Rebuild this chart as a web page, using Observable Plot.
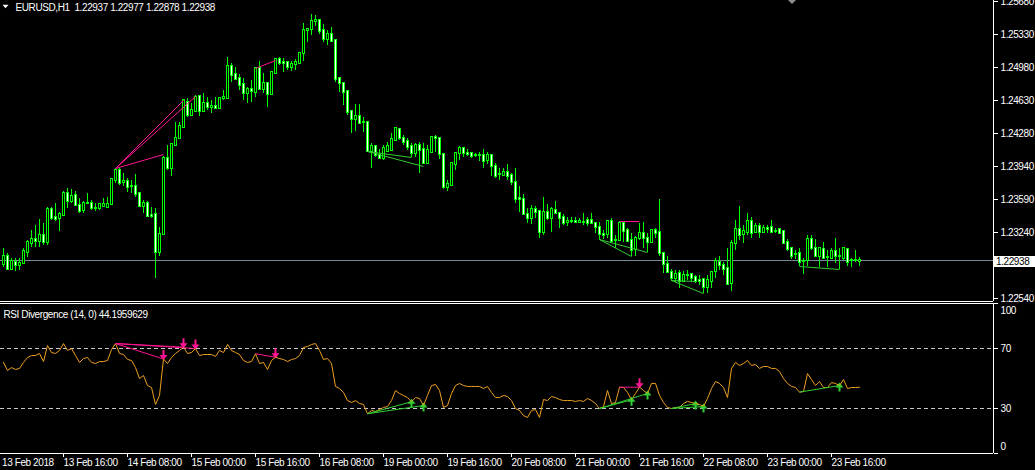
<!DOCTYPE html>
<html><head><meta charset="utf-8">
<script src="https://cdn.jsdelivr.net/npm/d3@7"></script>
<script src="https://cdn.jsdelivr.net/npm/@observablehq/plot@0.6"></script>
<style>
html,body{margin:0;padding:0;background:#000;}
#wrap{position:relative;width:1035px;height:470px;background:#000;overflow:hidden;font-family:"Liberation Sans",Arial,sans-serif;}
#wrap svg{display:block;}
#pricebox{position:absolute;left:994px;width:41px;height:11px;background:#fff;color:#000;font-size:10px;line-height:11px;letter-spacing:-0.4px;padding-left:2px;box-sizing:border-box;}
#shift{position:absolute;left:788px;top:0;width:0;height:0;border-left:4px solid transparent;border-right:4px solid transparent;border-top:4px solid #8c8c8c;}
</style></head><body><div id="wrap"></div>
<script>
const symbolTitle = "EURUSD,H1  1.22937 1.22977 1.22878 1.22938";
const rsiTitle = "RSI Divergence (14, 0) 44.1959629";
const lastPrice = 1.22938;

const open = [1.2290,1.2299,1.2285,1.2292,1.2289,1.2291,1.2303,1.2312,1.2316,1.2314,1.2321,1.2313,1.2348,1.2340,1.2339,1.2342,1.2365,1.2357,1.2363,1.2352,1.2347,1.2354,1.2355,1.2349,1.2349,1.2351,1.2350,1.2353,1.2379,1.2389,1.2377,1.2378,1.2372,1.2372,1.2365,1.2351,1.2355,1.2342,1.2343,1.2303,1.2322,1.2402,1.2392,1.2416,1.2423,1.2435,1.2461,1.2447,1.2452,1.2468,1.2452,1.2460,1.2456,1.2457,1.2455,1.2465,1.2465,1.2499,1.2491,1.2487,1.2480,1.2471,1.2475,1.2472,1.2497,1.2475,1.2481,1.2470,1.2492,1.2507,1.2503,1.2503,1.2498,1.2501,1.2502,1.2513,1.2537,1.2538,1.2547,1.2548,1.2537,1.2528,1.2533,1.2527,1.2487,1.2481,1.2473,1.2452,1.2443,1.2446,1.2440,1.2440,1.2409,1.2415,1.2405,1.2402,1.2409,1.2410,1.2421,1.2433,1.2423,1.2420,1.2415,1.2407,1.2416,1.2412,1.2397,1.2408,1.2424,1.2423,1.2406,1.2371,1.2373,1.2396,1.2407,1.2413,1.2407,1.2407,1.2405,1.2405,1.2405,1.2400,1.2405,1.2394,1.2385,1.2384,1.2387,1.2384,1.2377,1.2360,1.2359,1.2343,1.2339,1.2348,1.2346,1.2324,1.2345,1.2339,1.2347,1.2344,1.2340,1.2334,1.2335,1.2335,1.2334,1.2334,1.2336,1.2336,1.2333,1.2329,1.2322,1.2322,1.2335,1.2315,1.2315,1.2333,1.2326,1.2315,1.2306,1.2318,1.2323,1.2318,1.2313,1.2326,1.2324,1.2302,1.2290,1.2282,1.2275,1.2280,1.2272,1.2278,1.2279,1.2276,1.2273,1.2274,1.2266,1.2272,1.2283,1.2292,1.2289,1.2286,1.2270,1.2312,1.2327,1.2322,1.2324,1.2335,1.2324,1.2330,1.2324,1.2328,1.2329,1.2325,1.2327,1.2325,1.2313,1.2307,1.2301,1.2302,1.2293,1.2294,1.2316,1.2307,1.2299,1.2306,1.2297,1.2296,1.2304,1.2298,1.2296,1.2306,1.2294,1.2294,1.22937];
const high = [1.2307,1.2302,1.2296,1.2296,1.2296,1.2307,1.2315,1.2326,1.2331,1.2338,1.2333,1.2350,1.2350,1.2355,1.2345,1.2367,1.2370,1.2369,1.2367,1.2360,1.2357,1.2365,1.2358,1.2354,1.2355,1.2360,1.2361,1.2381,1.2392,1.2392,1.2386,1.2381,1.2379,1.2385,1.2366,1.2358,1.2357,1.2350,1.2349,1.2329,1.2404,1.2416,1.2418,1.2440,1.2440,1.2464,1.2465,1.2460,1.2469,1.2469,1.2471,1.2466,1.2463,1.2466,1.2466,1.2474,1.2509,1.2502,1.2498,1.2491,1.2487,1.2477,1.2484,1.2498,1.2505,1.2492,1.2482,1.2494,1.2508,1.2509,1.2508,1.2505,1.2505,1.2507,1.2514,1.2545,1.2539,1.2554,1.2553,1.2549,1.2544,1.2537,1.2540,1.2528,1.2488,1.2482,1.2474,1.2453,1.2459,1.2459,1.2445,1.2441,1.2418,1.2416,1.2412,1.2416,1.2419,1.2428,1.2435,1.2434,1.2426,1.2423,1.2418,1.2418,1.2419,1.2418,1.2416,1.2425,1.2426,1.2424,1.2407,1.2379,1.2398,1.2408,1.2415,1.2414,1.2412,1.2408,1.2407,1.2408,1.2412,1.2408,1.2406,1.2397,1.2391,1.2392,1.2396,1.2386,1.2391,1.2372,1.2364,1.2349,1.2352,1.2351,1.2347,1.2361,1.2353,1.2350,1.2357,1.2345,1.2343,1.2340,1.2340,1.2340,1.2339,1.2344,1.2340,1.2344,1.2334,1.2334,1.2326,1.2336,1.2339,1.2321,1.2335,1.2334,1.2328,1.2323,1.2320,1.2333,1.2334,1.2323,1.2327,1.2328,1.2359,1.2303,1.2298,1.2285,1.2284,1.2284,1.2283,1.2284,1.2280,1.2278,1.2278,1.2275,1.2278,1.2283,1.2296,1.2298,1.2292,1.2307,1.2315,1.2336,1.2351,1.2331,1.2344,1.2340,1.2333,1.2333,1.2331,1.2331,1.2336,1.2328,1.2328,1.2326,1.2316,1.2308,1.2305,1.2307,1.2296,1.2321,1.2321,1.2316,1.2308,1.2313,1.2305,1.2307,1.2317,1.2307,1.2307,1.2307,1.2296,1.2305,1.22977];
const low = [1.2287,1.2284,1.2284,1.2283,1.2284,1.2290,1.2297,1.2308,1.2308,1.2308,1.2310,1.2310,1.2336,1.2335,1.2325,1.2341,1.2349,1.2354,1.2351,1.2344,1.2344,1.2353,1.2347,1.2346,1.2347,1.2350,1.2349,1.2352,1.2376,1.2373,1.2372,1.2366,1.2365,1.2361,1.2350,1.2344,1.2340,1.2339,1.2275,1.2299,1.2321,1.2389,1.2383,1.2415,1.2422,1.2434,1.2445,1.2446,1.2451,1.2446,1.2451,1.2453,1.2450,1.2454,1.2455,1.2463,1.2464,1.2482,1.2484,1.2474,1.2463,1.2460,1.2461,1.2466,1.2474,1.2471,1.2456,1.2469,1.2491,1.2500,1.2493,1.2495,1.2494,1.2495,1.2501,1.2505,1.2525,1.2532,1.2542,1.2533,1.2525,1.2521,1.2525,1.2482,1.2472,1.2458,1.2447,1.2428,1.2431,1.2438,1.2429,1.2408,1.2392,1.2403,1.2401,1.2400,1.2408,1.2409,1.2420,1.2421,1.2416,1.2410,1.2403,1.2403,1.2386,1.2396,1.2396,1.2407,1.2408,1.2401,1.2369,1.2367,1.2372,1.2389,1.2400,1.2403,1.2404,1.2402,1.2403,1.2399,1.2392,1.2396,1.2383,1.2381,1.2379,1.2383,1.2379,1.2373,1.2354,1.2345,1.2342,1.2333,1.2332,1.2339,1.2318,1.2321,1.2336,1.2324,1.2343,1.2328,1.2331,1.2330,1.2333,1.2333,1.2333,1.2331,1.2330,1.2332,1.2323,1.2315,1.2316,1.2318,1.2312,1.2307,1.2314,1.2313,1.2313,1.2299,1.2299,1.2315,1.2307,1.2303,1.2312,1.2318,1.2299,1.2280,1.2280,1.2272,1.2271,1.2265,1.2271,1.2273,1.2271,1.2270,1.2268,1.2259,1.2259,1.2265,1.2275,1.2284,1.2278,1.2268,1.2262,1.2305,1.2315,1.2312,1.2321,1.2318,1.2323,1.2318,1.2323,1.2323,1.2323,1.2323,1.2322,1.2311,1.2304,1.2295,1.2295,1.2288,1.2279,1.2288,1.2305,1.2297,1.2287,1.2296,1.2287,1.2295,1.2291,1.2285,1.2294,1.2288,1.2287,1.2292,1.22878];
const close = [1.2299,1.2285,1.2293,1.2289,1.2291,1.2304,1.2313,1.2316,1.2314,1.2321,1.2313,1.2348,1.2339,1.2338,1.2343,1.2365,1.2357,1.2362,1.2352,1.2346,1.2354,1.2355,1.2349,1.2349,1.2353,1.2353,1.2353,1.2380,1.2389,1.2376,1.2378,1.2371,1.2372,1.2364,1.2351,1.2355,1.2341,1.2341,1.2303,1.2322,1.2402,1.2392,1.2417,1.2423,1.2436,1.2463,1.2447,1.2453,1.2466,1.2452,1.2460,1.2456,1.2457,1.2455,1.2465,1.2466,1.2499,1.2490,1.2486,1.2479,1.2471,1.2475,1.2473,1.2497,1.2475,1.2481,1.2470,1.2493,1.2507,1.2502,1.2502,1.2498,1.2501,1.2503,1.2513,1.2537,1.2538,1.2547,1.2548,1.2536,1.2528,1.2533,1.2526,1.2486,1.2481,1.2472,1.2451,1.2443,1.2446,1.2439,1.2440,1.2409,1.2415,1.2405,1.2402,1.2413,1.2415,1.2422,1.2434,1.2423,1.2419,1.2414,1.2407,1.2416,1.2410,1.2397,1.2410,1.2424,1.2423,1.2406,1.2371,1.2375,1.2397,1.2407,1.2413,1.2407,1.2406,1.2404,1.2405,1.2405,1.2399,1.2405,1.2394,1.2383,1.2385,1.2387,1.2383,1.2377,1.2359,1.2359,1.2343,1.2339,1.2348,1.2345,1.2324,1.2345,1.2339,1.2348,1.2344,1.2339,1.2333,1.2335,1.2335,1.2334,1.2335,1.2334,1.2333,1.2333,1.2329,1.2322,1.2321,1.2335,1.2314,1.2315,1.2333,1.2325,1.2314,1.2305,1.2318,1.2323,1.2317,1.2313,1.2326,1.2323,1.2302,1.2290,1.2282,1.2275,1.2279,1.2272,1.2278,1.2278,1.2275,1.2272,1.2272,1.2266,1.2273,1.2282,1.2293,1.2289,1.2285,1.2269,1.2312,1.2327,1.2321,1.2325,1.2335,1.2323,1.2330,1.2324,1.2328,1.2327,1.2324,1.2325,1.2323,1.2312,1.2306,1.2299,1.2301,1.2292,1.2293,1.2316,1.2307,1.2299,1.2307,1.2296,1.2297,1.2304,1.2298,1.2298,1.2307,1.2292,1.2294,1.2294,1.22938];
const rsi = [60.7,55.3,57.3,56.0,56.7,60.7,64.0,65.3,65.3,66.7,61.3,72.0,67.3,66.7,68.7,73.3,68.7,70.0,65.3,60.7,63.3,64.0,60.7,60.0,61.3,61.3,62.0,69.3,73.3,66.7,66.0,62.7,62.0,57.3,50.0,52.0,45.3,44.0,32.7,38.7,63.0,60.0,64.0,66.7,68.7,70.9,66.7,67.3,70.0,65.3,66.0,66.0,66.0,64.7,68.7,67.3,72.7,68.7,67.3,66.0,62.0,60.7,61.3,66.5,60.0,60.7,56.0,62.0,64.2,63.3,62.7,61.3,62.7,63.3,65.3,70.7,71.3,72.7,73.3,68.7,62.7,63.3,60.0,44.7,43.3,40.7,35.3,34.0,35.3,33.3,32.7,26.5,28.7,28.0,29.3,30.7,31.3,35.3,42.0,40.0,38.7,37.3,34.5,37.3,36.7,32.0,38.7,45.3,46.0,42.0,30.7,32.0,40.0,45.3,46.7,45.3,44.7,44.7,44.7,44.7,43.3,44.7,40.7,37.3,37.3,38.7,38.0,35.3,30.0,28.7,25.3,24.0,28.7,29.3,24.0,36.0,35.3,38.0,37.3,36.0,35.3,35.3,35.3,34.7,35.3,34.7,36.7,35.3,33.3,30.0,31.3,42.0,33.3,34.0,44.2,44.0,40.7,35.8,40.0,44.2,42.0,40.0,46.7,46.7,38.7,34.0,30.7,30.0,30.7,30.7,33.3,34.7,34.0,33.3,32.7,31.3,36.7,43.3,48.0,46.7,44.0,37.3,56.7,60.7,58.7,60.0,62.0,58.7,59.3,56.7,58.0,58.0,56.7,56.7,54.7,50.0,46.7,44.7,44.0,40.9,41.3,53.3,49.3,45.3,48.0,44.0,44.0,47.3,46.7,45.3,49.3,43.3,44.0,44.0,44.1959629];

const priceTicks = [1.2568, 1.2533, 1.2498, 1.2463, 1.2428, 1.2394, 1.2359, 1.2324, 1.2254];
const rsiLevels = [70, 30];
const timeTickBars = [15, 31, 47, 63, 79, 95, 111, 127, 143, 159, 175, 191, 207];
const timeTickLabels = ["13 Feb 16:00","14 Feb 08:00","15 Feb 00:00","15 Feb 16:00","16 Feb 08:00","19 Feb 00:00","19 Feb 16:00","20 Feb 08:00","21 Feb 00:00","21 Feb 16:00","22 Feb 08:00","23 Feb 00:00","23 Feb 16:00"];
const firstDateLabel = "13 Feb 2018";

// divergence lines (bar index pairs and price ends)
const bearFrom = [28, 28, 28, 63, 154];
const bearTo = [45, 48, 40, 68, 159];
const bearPriceFrom = [1.2392, 1.2392, 1.2392, 1.2497, 1.2335];
const bearPriceTo = [1.2463, 1.2468, 1.2406, 1.2506, 1.2335];
const bullFrom = [91, 91, 149, 149, 167, 167, 199];
const bullTo = [102, 105, 157, 161, 175, 173, 209];
const bullPriceFrom = [1.2409, 1.2409, 1.2316, 1.2316, 1.2273, 1.2273, 1.2288];
const bullPriceTo = [1.2403, 1.2394, 1.2299, 1.2303, 1.2259, 1.2272, 1.2285];
const sellArrowBars = [45, 48, 40, 68, 159];
const buyArrowBars = [102, 105, 157, 161, 175, 173, 209];

const LIME = "#00ff00", PINK = "#ff1493", GREEN = "#32cd32", ORANGE = "#eea020";

const bars = open.map((o, i) => ({i, open: o, high: high[i], low: low[i], close: close[i], rsi: rsi[i]}));
const bearSegs = bearFrom.map((f, k) => ({f, t: bearTo[k], pf: bearPriceFrom[k], pt: bearPriceTo[k], rf: rsi[f], rt: rsi[bearTo[k]]}));
const bullSegs = bullFrom.map((f, k) => ({f, t: bullTo[k], pf: bullPriceFrom[k], pt: bullPriceTo[k], rf: rsi[f], rt: rsi[bullTo[k]]}));

const arrowDown = {draw(c) {
  c.moveTo(-1, -9); c.lineTo(1, -9); c.lineTo(1, -4); c.lineTo(4, -4);
  c.lineTo(0, 1); c.lineTo(-4, -4); c.lineTo(-1, -4); c.closePath();
}};
const arrowUp = {draw(c) {
  c.moveTo(-1, 6); c.lineTo(1, 6); c.lineTo(1, 2); c.lineTo(4, 2);
  c.lineTo(0, -3); c.lineTo(-4, 2); c.lineTo(-1, 2); c.closePath();
}};
const triDown = {draw(c) { c.moveTo(-3, -1.7); c.lineTo(3, -1.7); c.lineTo(0, 1.7); c.closePath(); }};

const style = {background: "black", color: "white", fontFamily: "'Liberation Sans', Arial, sans-serif", fontSize: "10px", letterSpacing: "-0.4px", overflow: "visible"};
const xDomain = [-0.75, 247.5];
const pxPerPrice = 0.00010567;
const yTop = 1.2569, yBottom = 1.2569 - 301 * pxPerPrice;

const main = Plot.plot({
  width: 1035, height: 302, marginTop: 0, marginBottom: 1, marginLeft: 0, marginRight: 42,
  style,
  x: {domain: xDomain, axis: null, label: null},
  y: {domain: [yBottom, yTop], round: true, label: null},
  marks: [
    Plot.ruleY([lastPrice], {stroke: "#778899", strokeWidth: 1}),
    Plot.ruleX(bars, {x: "i", y1: "low", y2: "high", stroke: LIME, strokeWidth: 1, shapeRendering: "crispEdges"}),
    Plot.rect(bars.filter(d => d.close >= d.open), {x1: d => d.i - 0.25, x2: d => d.i + 0.25, y1: "open", y2: "close", fill: "black", stroke: LIME, strokeWidth: 1, insetTop: -0.05, insetBottom: -0.05, shapeRendering: "crispEdges"}),
    Plot.rect(bars.filter(d => d.close < d.open), {x1: d => d.i - 0.25, x2: d => d.i + 0.25, y1: "open", y2: "close", fill: "white", stroke: LIME, strokeWidth: 1, insetTop: -0.05, insetBottom: -0.05, shapeRendering: "crispEdges"}),
    Plot.link(bearSegs, {x1: "f", y1: "pf", x2: "t", y2: "pt", stroke: PINK, strokeWidth: 1}),
    Plot.link(bullSegs, {x1: "f", y1: "pf", x2: "t", y2: "pt", stroke: GREEN, strokeWidth: 1}),
    Plot.ruleX([xDomain[1]], {stroke: "white", strokeWidth: 1}),
    Plot.ruleY([yBottom], {stroke: "white", strokeWidth: 1}),
    Plot.axisY(priceTicks, {anchor: "right", tickSize: 4, tickPadding: 3, tickFormat: d => d.toFixed(5), color: "white", label: null}),
    Plot.text([symbolTitle], {frameAnchor: "top-left", dx: 15, dy: 3, lineAnchor: "top", textAnchor: "start", fill: "white"}),
    Plot.dot([0], {frameAnchor: "top-left", dx: 5, dy: 6, symbol: triDown, r: 3, fill: "white", stroke: "none"})
  ]
});

const labelByBar = new Map(timeTickBars.map((b, k) => [b, timeTickLabels[k]]));

const rsiChart = Plot.plot({
  width: 1035, height: 168, marginTop: 1, marginBottom: 17, marginLeft: 0, marginRight: 42,
  style,
  x: {domain: xDomain, label: null},
  y: {domain: [0, 100], label: null},
  marks: [
    Plot.ruleY(rsiLevels, {stroke: "#c8c8c8", strokeWidth: 1, strokeDasharray: "4,3"}),
    Plot.dot(sellArrowBars, {x: d => d, y: d => rsi[d], symbol: arrowDown, r: 4, fill: PINK, stroke: "none"}),
    Plot.dot(buyArrowBars, {x: d => d, y: d => rsi[d], symbol: arrowUp, r: 4, fill: GREEN, stroke: "none"}),
    Plot.line(bars, {x: "i", y: "rsi", stroke: ORANGE, strokeWidth: 1}),
    Plot.link(bearSegs, {x1: "f", y1: "rf", x2: "t", y2: "rt", stroke: PINK, strokeWidth: 1}),
    Plot.link(bullSegs, {x1: "f", y1: "rf", x2: "t", y2: "rt", stroke: GREEN, strokeWidth: 1}),
    Plot.ruleY([100, 0], {stroke: "white", strokeWidth: 1}),
    Plot.ruleX([xDomain[1]], {stroke: "white", strokeWidth: 1}),
    Plot.axisY([100, 70, 30, 0], {anchor: "right", tickSize: 4, tickFormat: () => "", color: "white", label: null}),
    Plot.text(rsiLevels, {y: d => d, frameAnchor: "right", dx: 7, textAnchor: "start", fill: "white", text: d => String(d)}),
    Plot.text([100], {y: d => d, frameAnchor: "right", dx: 7, dy: 7, textAnchor: "start", fill: "white", text: d => String(d)}),
    Plot.text([0], {y: d => d, frameAnchor: "right", dx: 7, dy: -6.5, textAnchor: "start", fill: "white", text: d => String(d)}),
    Plot.axisX(timeTickBars, {anchor: "bottom", tickSize: 4, tickPadding: 1, tickFormat: d => labelByBar.get(d), textAnchor: "start", color: "white", label: null}),
    Plot.text([firstDateLabel], {frameAnchor: "bottom-left", dx: 1.5, dy: 5, lineAnchor: "top", textAnchor: "start", fill: "white"}),
    Plot.text([rsiTitle], {frameAnchor: "top-left", dx: 3, dy: 7, lineAnchor: "top", textAnchor: "start", fill: "white"})
  ]
});

const wrap = document.getElementById("wrap");
wrap.appendChild(main);
wrap.appendChild(rsiChart);
const py = main.scale("y").apply(lastPrice);
const box = document.createElement("div");
box.id = "pricebox";
box.style.top = (py - 4.5) + "px";
box.textContent = lastPrice.toFixed(5);
wrap.appendChild(box);
const shift = document.createElement("div");
shift.id = "shift";
wrap.appendChild(shift);
</script></body></html>
